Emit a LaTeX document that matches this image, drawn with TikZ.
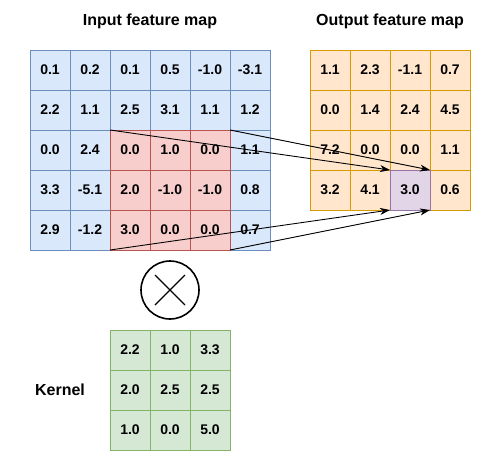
\documentclass[tikz,border=0pt]{standalone}
\usepackage{fontspec}
\setmainfont{Liberation Sans}
\usetikzlibrary{arrows.meta}
\definecolor{inFill}{HTML}{DAE8FC}
\definecolor{inLine}{HTML}{6C8EBF}
\definecolor{winFill}{HTML}{F8CECC}
\definecolor{winLine}{HTML}{B85450}
\definecolor{outFill}{HTML}{FFE6CC}
\definecolor{outLine}{HTML}{D79B00}
\definecolor{hitFill}{HTML}{E1D5E7}
\definecolor{hitLine}{HTML}{9673A6}
\definecolor{kerFill}{HTML}{D5E8D4}
\definecolor{kerLine}{HTML}{82B366}
\tikzset{
	cell/.style={draw, minimum size=40pt, inner sep=0pt, outer sep=0pt, line width=0.9pt, font=\bfseries\fontsize{14}{16}\selectfont},
	incell/.style={cell, fill=inFill, draw=inLine},
	wincell/.style={cell, fill=winFill, draw=winLine},
	outcell/.style={cell, fill=outFill, draw=outLine},
	hitcell/.style={cell, fill=hitFill, draw=hitLine},
	kercell/.style={cell, fill=kerFill, draw=kerLine},
	heading/.style={anchor=base, inner sep=0pt, font=\bfseries\fontsize{16}{18}\selectfont},
	conn/.style={line width=0.9pt, -{Stealth[length=10pt, width=7pt, inset=3pt]}}
}
\begin{document}
\begin{tikzpicture}[x=1pt, y=-1pt]
			%%%%% START %%%%%
			\useasboundingbox (0, 0) rectangle (481, 461);
			
			\node[heading] (intitle) at (150, 25) {Input feature map};
			\node[heading] (outtitle) at (390, 25) {Output feature map};
			\node[heading] (kertitle) at (60, 395) {Kernel};
			
			% input map, the 3x3 window in red
			\foreach \row [count=\r from 0] in {{0.1,0.2,0.1,0.5,-1.0,-3.1},{2.2,1.1,2.5,3.1,1.1,1.2},{0.0,2.4,0.0,1.0,0.0,1.1},{3.3,-5.1,2.0,-1.0,-1.0,0.8},{2.9,-1.2,3.0,0.0,0.0,0.7}}
				\foreach \val [count=\c from 0] in \row {
					\pgfmathtruncatemacro\inwin{(\r>1)&&(\c>1)&&(\c<5)}
					\ifnum\inwin=1 \def\sty{wincell}\else\def\sty{incell}\fi
					\node[\sty] (in-\r-\c) at (50+40*\c, 70+40*\r) {\val};
				}
			\draw[line width=0.9pt, winLine] (in-2-2.north west) rectangle (in-4-4.south east);
			
			% output map, the hit cell in purple
			\foreach \row [count=\r from 0] in {{1.1,2.3,-1.1,0.7},{0.0,1.4,2.4,4.5},{7.2,0.0,0.0,1.1},{3.2,4.1,3.0,0.6}}
				\foreach \val [count=\c from 0] in \row {
					\pgfmathtruncatemacro\hit{(\r==3)&&(\c==2)}
					\ifnum\hit=1 \def\sty{hitcell}\else\def\sty{outcell}\fi
					\node[\sty] (out-\r-\c) at (330+40*\c, 70+40*\r) {\val};
				}
			\draw[line width=0.9pt, hitLine] (out-3-2.north west) rectangle (out-3-2.south east);
			
			% kernel
			\foreach \row [count=\r from 0] in {{2.2,1.0,3.3},{2.0,2.5,2.5},{1.0,0.0,5.0}}
				\foreach \val [count=\c from 0] in \row
					\node[kercell] (ker-\r-\c) at (130+40*\c, 350+40*\r) {\val};
			
			\node[draw, circle, minimum size=58pt, inner sep=0pt, line width=1.6pt] (times) at (170, 290) {};
			\draw[line width=1.3pt] (times.center) ++(-15, -15) -- ++(30, 30);
			\draw[line width=1.3pt] (times.center) ++(15, -15) -- ++(-30, 30);
			
			\draw[conn] (in-2-2.north west) -- (out-3-2.north west);
			\draw[conn] (in-2-4.north east) -- (out-3-2.north east);
			\draw[conn] (in-4-2.south west) -- (out-3-2.south west);
			\draw[conn] (in-4-4.south east) -- (out-3-2.south east);
			%%%%% END %%%%%
\end{tikzpicture}
\end{document}
